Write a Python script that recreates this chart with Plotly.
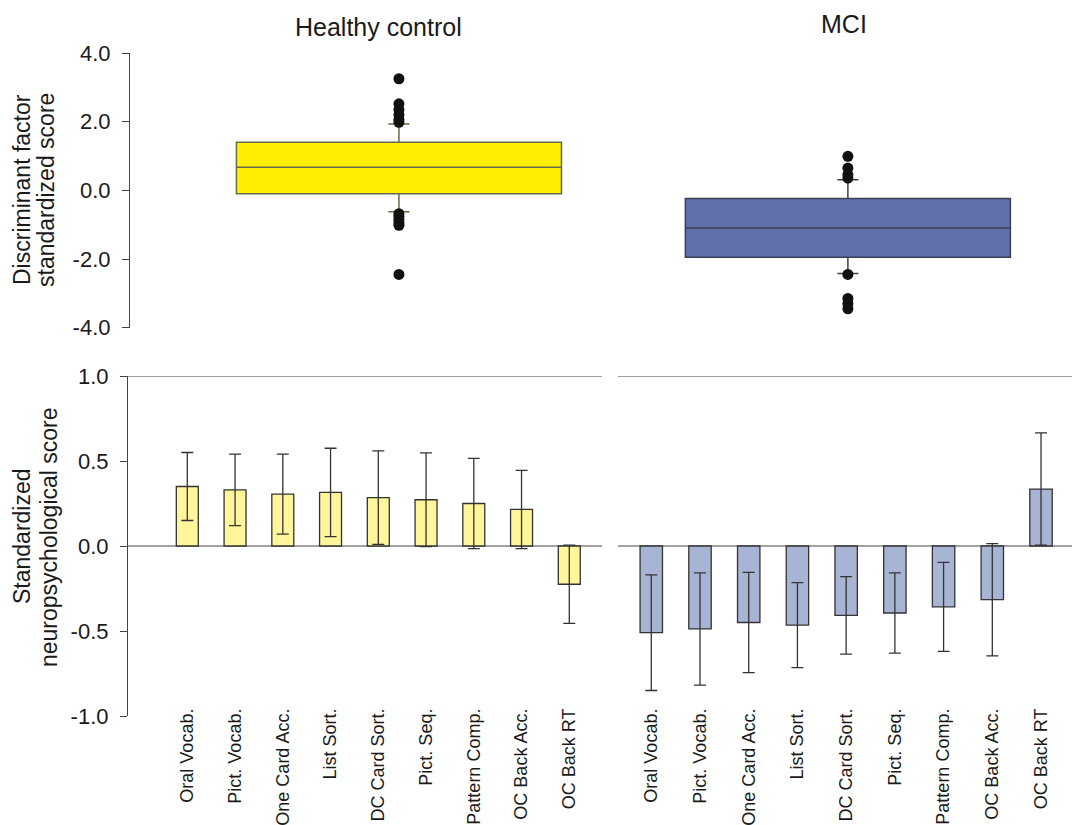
import plotly.graph_objects as go

# The page body adds an 8px margin, so the figure is laid out 8px smaller/shifted.
OFF = 8
W, H = 1080 - OFF, 825 - OFF

# ---- Data ----
groups = ["Healthy control", "MCI"]
box_q1 = [-0.10, -1.95]
box_median = [0.67, -1.10]
box_q3 = [1.40, -0.24]
box_lowerfence = [-0.62, -2.42]
box_upperfence = [1.93, 0.31]
hc_outliers = [3.25, 2.52, 2.35, 2.20, 2.06, 1.98, -0.68, -0.76, -0.85, -0.95, -1.02, -2.45]
mci_outliers = [0.99, 0.65, 0.46, 0.36, -2.45, -3.15, -3.30, -3.45]

tests = ["Oral Vocab.", "Pict. Vocab.", "One Card Acc.", "List Sort.", "DC Card Sort.",
         "Pict. Seq.", "Pattern Comp.", "OC Back Acc.", "OC Back RT"]
hc_mean = [0.35, 0.33, 0.305, 0.315, 0.285, 0.272, 0.25, 0.215, -0.225]
hc_err = [0.20, 0.21, 0.235, 0.26, 0.275, 0.276, 0.265, 0.23, 0.23]
mci_mean = [-0.51, -0.488, -0.45, -0.465, -0.408, -0.394, -0.358, -0.316, 0.335]
mci_err = [0.34, 0.33, 0.295, 0.25, 0.228, 0.236, 0.262, 0.33, 0.33]

top_ticks = [-4, -2, 0, 2, 4]
top_ticktext = ["-4.0", "-2.0", "0.0", "2.0", "4.0"]
bot_ticks = [-1, -0.5, 0, 0.5, 1]
bot_ticktext = ["-1.0", "-0.5", "0.0", "0.5", "1.0"]


def px(x):
    return (x - OFF) / W


def py(y):
    return 1 - (y - OFF) / H


FONT = "Arial, Liberation Sans, Helvetica, sans-serif"
TXT = "#1a1a1a"
AX = "#444444"

fig = go.Figure()

# ---- Top: box plots ----
box_fill = ["#FFEE00", "#5F70AA"]
box_line = ["#6a6a4a", "#3a3f55"]
for i, g in enumerate(groups):
    fig.add_trace(go.Box(
        x=[g], q1=[box_q1[i]], median=[box_median[i]], q3=[box_q3[i]],
        lowerfence=[box_lowerfence[i]], upperfence=[box_upperfence[i]],
        width=0.724, whiskerwidth=0.065, boxpoints=False,
        fillcolor=box_fill[i], line=dict(color=box_line[i], width=1.5),
        xaxis="x", yaxis="y", showlegend=False, hoverinfo="skip"))

fig.add_trace(go.Scatter(x=[groups[0]] * len(hc_outliers), y=hc_outliers, mode="markers",
                         marker=dict(color="#111111", size=11), xaxis="x", yaxis="y",
                         showlegend=False, hoverinfo="skip"))
fig.add_trace(go.Scatter(x=[groups[1]] * len(mci_outliers), y=mci_outliers, mode="markers",
                         marker=dict(color="#111111", size=11), xaxis="x", yaxis="y",
                         showlegend=False, hoverinfo="skip"))

# ---- Bottom: bars ----
err_style = dict(type="data", visible=True, color="#333333", thickness=1.3, width=6)
fig.add_trace(go.Bar(x=tests, y=hc_mean, error_y=dict(array=hc_err, **err_style),
                     marker=dict(color="#FFF59A", line=dict(color="#333333", width=1.3)),
                     width=0.46, xaxis="x2", yaxis="y2", showlegend=False))
fig.add_trace(go.Bar(x=tests, y=mci_mean, error_y=dict(array=mci_err, **err_style),
                     marker=dict(color="#A8B4D4", line=dict(color="#333333", width=1.3)),
                     width=0.46, xaxis="x3", yaxis="y3", showlegend=False))

tickfont = dict(family=FONT, size=22, color=TXT)
xtickfont = dict(family=FONT, size=18, color=TXT)

fig.update_layout(
    width=W, height=H,
    margin=dict(l=0, r=0, t=0, b=0),
    paper_bgcolor="white", plot_bgcolor="rgba(0,0,0,0)",
    font=dict(family=FONT, color=TXT),
    xaxis=dict(domain=[px(130), 1.0], type="category", range=[-0.599, 1.517],
               showticklabels=False, ticks="", showline=False, showgrid=False,
               zeroline=False, anchor="y", automargin=False),
    yaxis=dict(domain=[py(327.7), py(53)], range=[-4, 4], anchor="x",
               tickvals=top_ticks, ticktext=top_ticktext, ticks="outside", ticklen=7,
               tickcolor=AX, tickwidth=1.2, showline=True, linecolor=AX, linewidth=1.2,
               showgrid=False, zeroline=False, tickfont=tickfont, automargin=False,
               ticklabelstandoff=7),
    xaxis2=dict(domain=[px(128), px(602)], type="category", range=[-1.242, 8.685],
                anchor="free", position=py(704), tickangle=-90, ticks="", showline=False,
                showgrid=False, zeroline=False, tickfont=xtickfont, automargin=False),
    yaxis2=dict(domain=[py(716), py(376)], range=[-1, 1], anchor="x2",
                tickvals=bot_ticks, ticktext=bot_ticktext, ticks="outside", ticklen=7,
                tickcolor=AX, tickwidth=1.2, showline=True, linecolor=AX, linewidth=1.2,
                showgrid=False, zeroline=False, tickfont=tickfont, automargin=False,
                ticklabelstandoff=7),
    xaxis3=dict(domain=[px(618), 1.0], type="category", range=[-0.683, 8.967 - OFF / 47.9],
                anchor="free", position=py(704), tickangle=-90, ticks="", showline=False,
                showgrid=False, zeroline=False, tickfont=xtickfont, automargin=False),
    yaxis3=dict(domain=[py(716), py(376)], range=[-1, 1], anchor="x3",
                visible=False),
    bargap=0.5,
)

# Horizontal reference lines at 1.0 and 0.0 in the bar panels
for xr, yr in (("x2", "y2"), ("x3", "y3")):
    for yv in (1.0, 0.0):
        fig.add_shape(type="line", xref=f"{xr} domain", yref=yr, x0=0, x1=1, y0=yv, y1=yv,
                      line=dict(color=AX, width=1.2), layer="below")

# Titles
fig.add_annotation(text="Healthy control", xref="paper", yref="paper", x=px(378), y=py(27),
                   showarrow=False, xanchor="center", yanchor="middle",
                   font=dict(family=FONT, size=25, color=TXT))
fig.add_annotation(text="MCI", xref="paper", yref="paper", x=px(844), y=py(24),
                   showarrow=False, xanchor="center", yanchor="middle",
                   font=dict(family=FONT, size=25, color=TXT))

# Y-axis titles (one annotation per line to control line spacing)
ytitle_font = dict(family=FONT, size=23, color=TXT)
for txt, xx, yy in (("Discriminant factor", 22, 190), ("standardized score", 46, 190),
                    ("Standardized", 22, 536), ("neuropsychological score", 49, 537)):
    fig.add_annotation(text=txt, xref="paper", yref="paper", x=px(xx), y=py(yy),
                       showarrow=False, textangle=-90, xanchor="center", yanchor="middle",
                       font=ytitle_font)

fig.write_html("out.html")
